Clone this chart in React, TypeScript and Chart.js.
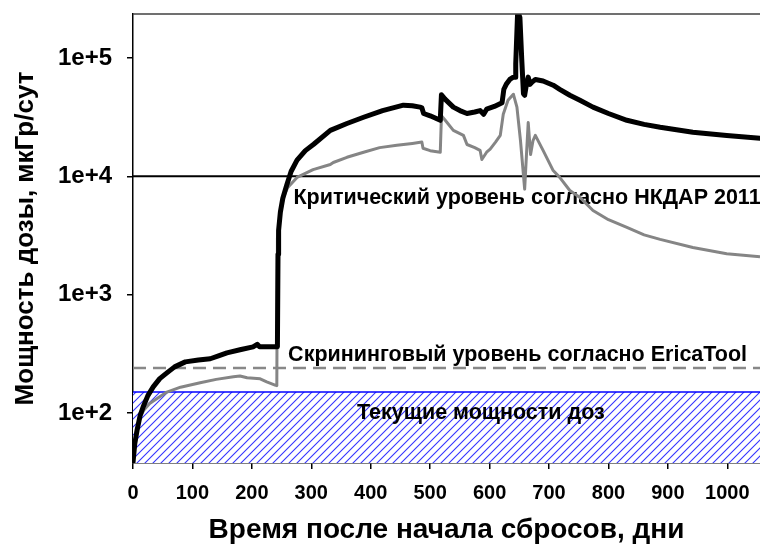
import React, { useEffect, useRef } from "react";
import { Chart, registerables } from "chart.js";

Chart.register(...registerables);

// Black curve (total dose rate)
const blackDays = [0, 3, 7, 12, 17, 25, 34, 45, 57, 70, 88, 110, 130, 145, 158, 180, 202, 209, 213, 242, 243, 244, 245, 248, 252, 259, 266, 276, 290, 304, 332, 360, 388, 420, 455, 470, 483, 486, 489, 500, 517, 519, 525, 539, 550, 562, 575, 584, 590, 595, 608, 621, 624, 628, 634, 640, 643, 644, 647, 649, 651, 654, 657, 659, 662, 665, 668, 672, 677, 690, 707, 718, 735, 752, 774, 800, 831, 860, 887, 942, 999, 1055];
const blackDose = [38, 55, 72, 95, 112, 140, 166, 195, 218, 245, 270, 280, 287, 305, 322, 342, 362, 380, 362, 362, 362, 2200, 3500, 5000, 6500, 8550, 11000, 13700, 16500, 18700, 24500, 28000, 31600, 36000, 40000, 39500, 38500, 38000, 34000, 32500, 29800, 49000, 45000, 38500, 36000, 34000, 35000, 36000, 33500, 37000, 39000, 42000, 54500, 60000, 66000, 69000, 69000, 90000, 230000, 236000, 220000, 100000, 50000, 48500, 60000, 69000, 60000, 63000, 66000, 64000, 59000, 54500, 48500, 44000, 38500, 34000, 29800, 27500, 26000, 23600, 22200, 21000];

// Gray curve
const grayDays = [0, 3, 6, 12, 18, 28, 38, 57, 80, 113, 140, 169, 180, 192, 214, 225, 239, 242, 243, 248, 253, 260, 276, 303, 332, 337, 360, 388, 415, 444, 470, 486, 488, 500, 517, 519, 525, 539, 556, 562, 575, 584, 587, 595, 601, 610, 618, 623, 631, 640, 646, 652, 659, 662, 665, 669, 673, 677, 690, 707, 718, 735, 752, 774, 800, 831, 860, 887, 942, 999, 1055];
const grayDose = [38, 55, 72, 92, 105, 120, 130, 150, 165, 180, 192, 202, 205, 198, 194, 183, 172, 170, 3000, 4800, 6640, 8000, 9800, 11400, 12600, 13100, 14500, 16000, 17500, 18300, 19000, 19500, 17300, 16500, 16000, 32500, 30000, 24500, 22200, 18600, 17500, 16600, 13900, 16000, 17000, 19500, 22200, 33500, 44000, 49500, 38500, 20000, 7800, 15000, 28500, 15300, 20000, 22200, 16600, 11200, 9800, 7600, 6640, 5150, 4300, 3700, 3200, 2930, 2500, 2220, 2090];

// Reference levels
const criticalLevel = 10000;
const screeningLevel = 240;
const currentLevel = 150;

// Axis ranges and ticks
const xMin = 0;
const xMax = 1055;
const yMin = 37.7;
const yMax = 236000;
const yTickValues = [100, 1000, 10000, 100000];
const yTickLabels = ["1e+2", "1e+3", "1e+4", "1e+5"];

// Text labels
const xTitle = "Время после начала сбросов, дни";
const yTitle = "Мощность дозы, мкГр/сут";
const annotTexts = [
  "Критический уровень согласно НКДАР 2011",
  "Скрининговый уровень согласно EricaTool",
  "Текущие мощности доз",
];
const annotX = [270, 261, 377];
const annotY = [6510, 310, 100];

const FONT = "'Liberation Sans', Arial, sans-serif";

function makeHatch(): CanvasPattern | string {
  const c = document.createElement("canvas");
  c.width = 8;
  c.height = 8;
  const g = c.getContext("2d");
  if (!g) return "rgba(0,0,255,0.2)";
  g.fillStyle = "#ffffff";
  g.fillRect(0, 0, 8, 8);
  g.strokeStyle = "#3535ff";
  g.lineWidth = 1.1;
  g.beginPath();
  g.moveTo(0, 8);
  g.lineTo(8, 0);
  g.moveTo(-1, 1);
  g.lineTo(1, -1);
  g.moveTo(7, 9);
  g.lineTo(9, 7);
  g.stroke();
  const p = g.createPattern(c, "repeat");
  return p || "rgba(0,0,255,0.2)";
}

export default function App() {
  const ref = useRef<HTMLCanvasElement | null>(null);

  useEffect(() => {
    const canvas = ref.current;
    if (!canvas) return;
    const ctx = canvas.getContext("2d");
    if (!ctx) return;

    const hatch = makeHatch();

    const textPlugin = {
      id: "annotTexts",
      afterDatasetDraw(chart: any, args: any) {
        if (args.index !== 4) return;
        const c = chart.ctx;
        const x = chart.scales.x;
        const y = chart.scales.y;
        c.save();
        c.font = `bold 21.5px ${FONT}`;
        c.fillStyle = "#000";
        c.textAlign = "left";
        c.textBaseline = "middle";
        annotTexts.forEach((t, i) => {
          c.fillText(t, x.getPixelForValue(annotX[i]), y.getPixelForValue(annotY[i]));
        });
        c.restore();
      },
      afterDraw(chart: any) {
        const c = chart.ctx;
        const a = chart.chartArea;
        c.save();
        c.strokeStyle = "#404040";
        c.lineWidth = 1.5;
        c.beginPath();
        c.moveTo(a.left, a.top);
        c.lineTo(a.right, a.top);
        c.stroke();
        c.restore();
      },
    };

    const chart = new Chart(ctx, {
      type: "line",
      data: {
        datasets: [
          {
            label: "black",
            data: blackDays.map((d, i) => ({ x: d, y: blackDose[i] })),
            borderColor: "#000000",
            borderWidth: 5,
            pointRadius: 0,
            tension: 0,
            fill: false,
            borderJoinStyle: "round",
            borderCapStyle: "round",
            order: 0,
          },
          {
            label: "gray",
            data: grayDays.map((d, i) => ({ x: d, y: grayDose[i] })),
            borderColor: "#858585",
            borderWidth: 3,
            pointRadius: 0,
            tension: 0,
            fill: false,
            borderJoinStyle: "round",
            order: 1,
          },
          {
            label: "critical",
            data: [
              { x: xMin, y: criticalLevel },
              { x: xMax, y: criticalLevel },
            ],
            borderColor: "#000000",
            borderWidth: 2,
            pointRadius: 0,
            fill: false,
            order: 2,
          },
          {
            label: "screening",
            data: [
              { x: xMin, y: screeningLevel },
              { x: xMax, y: screeningLevel },
            ],
            borderColor: "#888888",
            borderWidth: 2.5,
            borderDash: [13, 7],
            pointRadius: 0,
            fill: false,
            order: 3,
          },
          {
            label: "current",
            data: [
              { x: xMin, y: currentLevel },
              { x: xMax, y: currentLevel },
            ],
            borderColor: "#0000ff",
            borderWidth: 1.5,
            backgroundColor: hatch as any,
            pointRadius: 0,
            fill: "start",
            order: 4,
          },
        ],
      },
      options: {
        responsive: false,
        animation: false,
        events: [],
        layout: { padding: { top: 14, right: 0, left: 0, bottom: 0 } },
        plugins: {
          legend: { display: false },
          tooltip: { enabled: false },
        },
        scales: {
          x: {
            type: "linear",
            position: "bottom",
            min: xMin,
            max: xMax,
            afterFit: (s: any) => {
              s.height = 88;
              s.paddingLeft = 0;
              s.paddingRight = 0;
            },
            ticks: {
              stepSize: 100,
              includeBounds: false,
              autoSkip: false,
              maxRotation: 0,
              padding: 12,
              color: "#000",
              font: { family: FONT, size: 20, weight: "bold" },
              callback: (v: any) => String(v),
            },
            grid: {
              drawOnChartArea: false,
              drawTicks: true,
              tickLength: 6,
              color: "#000",
              lineWidth: 1.5,
            },
            border: { display: true, color: "#000", width: 1.5 },
            title: {
              display: true,
              text: xTitle,
              color: "#000",
              font: { family: FONT, size: 28, weight: "bold" },
              padding: { top: 0, bottom: 4 },
            },
          },
          y: {
            type: "logarithmic",
            position: "left",
            min: yMin,
            max: yMax,
            afterFit: (s: any) => {
              s.width = 133;
              s.paddingTop = 0;
              s.paddingBottom = 0;
            },
            afterBuildTicks: (s: any) => {
              s.ticks = yTickValues.map((v) => ({ value: v }));
            },
            ticks: {
              autoSkip: false,
              padding: 15,
              color: "#000",
              font: { family: FONT, size: 24, weight: "bold" },
              callback: (v: any) => {
                const i = yTickValues.indexOf(Number(v));
                return i >= 0 ? yTickLabels[i] : "";
              },
            },
            grid: {
              drawOnChartArea: false,
              drawTicks: true,
              tickLength: 6,
              color: "#000",
              lineWidth: 1.5,
            },
            border: { display: true, color: "#000", width: 1.5 },
            title: {
              display: true,
              text: yTitle,
              color: "#000",
              font: { family: FONT, size: 26, weight: "bold" },
              padding: { top: 10, bottom: 0 },
            },
          },
        },
      },
      plugins: [textPlugin],
    } as any);

    return () => chart.destroy();
  }, []);

  return (
    <div style={{ position: "absolute", left: 0, top: 0, width: 760, height: 551, background: "#fff" }}>
      <canvas ref={ref} width={760} height={551} style={{ display: "block" }} />
    </div>
  );
}
